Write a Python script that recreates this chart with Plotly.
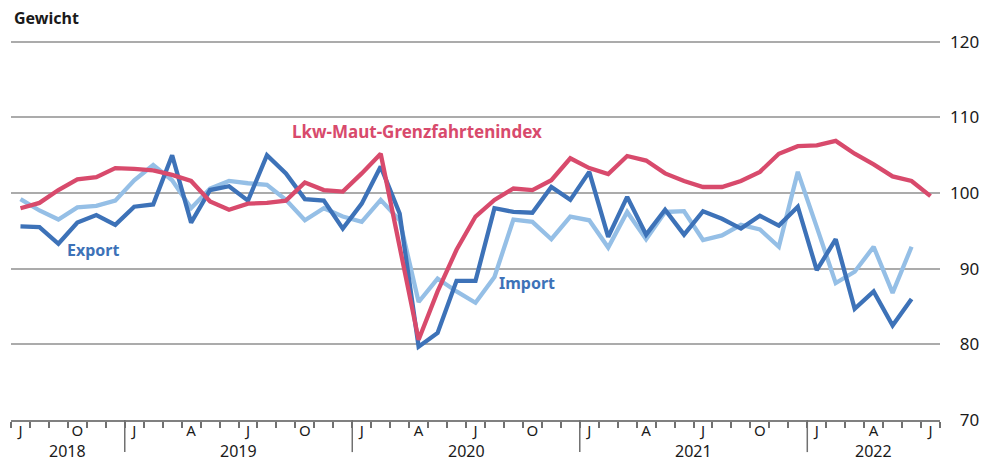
import plotly.graph_objects as go

# Months Jul 2018 .. Jul 2022
months = [f"{y}-{m:02d}" for y in range(2018, 2023) for m in range(1, 13)]
months = months[6:6 + 49]
month_letters = {1: "J", 4: "A", 7: "J", 10: "O"}
tick_text = [month_letters.get(int(m[5:]), "") for m in months]

export_vals = [95.6, 95.5, 93.3, 96.1, 97.1, 95.8, 98.2, 98.5, 105.0, 96.1, 100.4, 100.9,
               99.0, 105.0, 102.6, 99.2, 99.0, 95.3, 98.6, 103.5, 97.3, 79.7, 81.5, 88.4,
               88.4, 98.0, 97.5, 97.4, 100.8, 99.1, 102.8, 94.2, 99.5, 94.5, 97.8, 94.5,
               97.6, 96.6, 95.3, 97.0, 95.7, 98.2, 89.8, 93.9, 84.7, 87.0, 82.5, 86.0]
import_vals = [99.2, 97.7, 96.5, 98.1, 98.3, 99.0, 101.7, 103.7, 101.7, 98.0, 100.6, 101.6,
               101.3, 101.1, 99.1, 96.4, 98.0, 96.9, 96.2, 99.1, 96.4, 85.6, 88.7, 87.0,
               85.5, 88.9, 96.5, 96.2, 93.9, 96.9, 96.4, 92.8, 97.5, 93.9, 97.5, 97.6,
               93.8, 94.4, 95.8, 95.2, 92.9, 102.8, 95.5, 88.1, 89.6, 92.9, 86.8, 92.9]
lkw_vals = [98.0, 98.7, 100.4, 101.8, 102.1, 103.3, 103.2, 103.0, 102.4, 101.6, 98.9, 97.8,
            98.6, 98.7, 99.0, 101.4, 100.4, 100.2, 102.6, 105.2, 92.9, 80.6, 87.0, 92.5,
            96.9, 99.1, 100.6, 100.4, 101.7, 104.6, 103.3, 102.5, 104.9, 104.3, 102.6, 101.6,
            100.8, 100.8, 101.6, 102.8, 105.2, 106.2, 106.3, 106.9, 105.2, 103.8, 102.2, 101.6,
            99.6]

y_tickvals = [70, 80, 90, 100, 110, 120]
y_ticktext = [("\u2007" + str(v)) if v < 100 else str(v) for v in y_tickvals]

RED = "#d84a6c"
DARK = "#3d72b8"
LIGHT = "#95bfe6"
FONT = "Noto Sans"

fig = go.Figure()
fig.add_trace(go.Scatter(x=months[:len(import_vals)], y=import_vals, mode="lines",
                         line=dict(color=LIGHT, width=4.3), name="Import"))
fig.add_trace(go.Scatter(x=months[:len(export_vals)], y=export_vals, mode="lines",
                         line=dict(color=DARK, width=4.3), name="Export"))
fig.add_trace(go.Scatter(x=months[:len(lkw_vals)], y=lkw_vals, mode="lines",
                         line=dict(color=RED, width=4.3), name="Lkw"))

fig.add_hline(y=100, line=dict(color="#4a4a4a", width=2), layer="below")

# year separators and year labels
years = sorted(set(m[:4] for m in months))
for yr in years:
    idx = [i for i, m in enumerate(months) if m[:4] == yr]
    if idx[0] > 0:
        fig.add_shape(type="line", xref="x", yref="paper", x0=idx[0] - 0.5, x1=idx[0] - 0.5,
                      y0=0, y1=-0.084, line=dict(color="#707070", width=1.5))
    fig.add_annotation(x=(idx[0] + idx[-1]) / 2, y=-0.081, xref="x", yref="paper",
                       text=yr, showarrow=False, yanchor="middle",
                       font=dict(family=FONT, size=16, color="#1a1a1a"))

fig.add_annotation(x=20.94, y=108.2, text="<b>Lkw-Maut-Grenzfahrtenindex</b>", showarrow=False,
                   font=dict(family=FONT, size=17, color=RED))
fig.add_annotation(x=3.85, y=92.5, text="<b>Export</b>", showarrow=False,
                   font=dict(family=FONT, size=16, color=DARK))
fig.add_annotation(x=26.74, y=88.1, text="<b>Import</b>", showarrow=False,
                   font=dict(family=FONT, size=16, color=DARK))
fig.add_annotation(x=0, y=1, xref="paper", yref="paper", xshift=1, yshift=20,
                   xanchor="left", yanchor="middle", text="<b>Gewicht</b>", showarrow=False,
                   font=dict(family=FONT, size=16, color="#1a1a1a"))

fig.update_layout(
    width=994, height=463,
    margin=dict(l=11, r=54, t=38, b=43, autoexpand=False),
    paper_bgcolor="white", plot_bgcolor="white",
    showlegend=False,
    font=dict(family=FONT, size=16, color="#1a1a1a"),
    xaxis=dict(type="category", categoryorder="array", categoryarray=months,
               range=[-0.5, len(months) - 0.5], automargin=False,
               tickmode="array", tickvals=months, ticktext=tick_text, tickangle=0,
               tickson="boundaries", ticks="outside", ticklen=6, tickwidth=1.5,
               tickcolor="#707070", showgrid=False, showline=True,
               linecolor="#808080", linewidth=2, zeroline=False,
               tickfont=dict(family=FONT, size=15, color="#1a1a1a"),
               ticklabelstandoff=-4),
    yaxis=dict(side="right", range=[70, 120.5], tickmode="array", tickvals=y_tickvals,
               ticktext=y_ticktext, showgrid=True, gridcolor="#ababab", gridwidth=1.5,
               zeroline=False, showline=False, ticks="", automargin=False,
               tickfont=dict(family=FONT, size=17, color="#1a1a1a"),
               ticklabelstandoff=9),
)

fig.write_html("out.html", config={"displayModeBar": False},
               post_script="document.body.style.margin='0';")
